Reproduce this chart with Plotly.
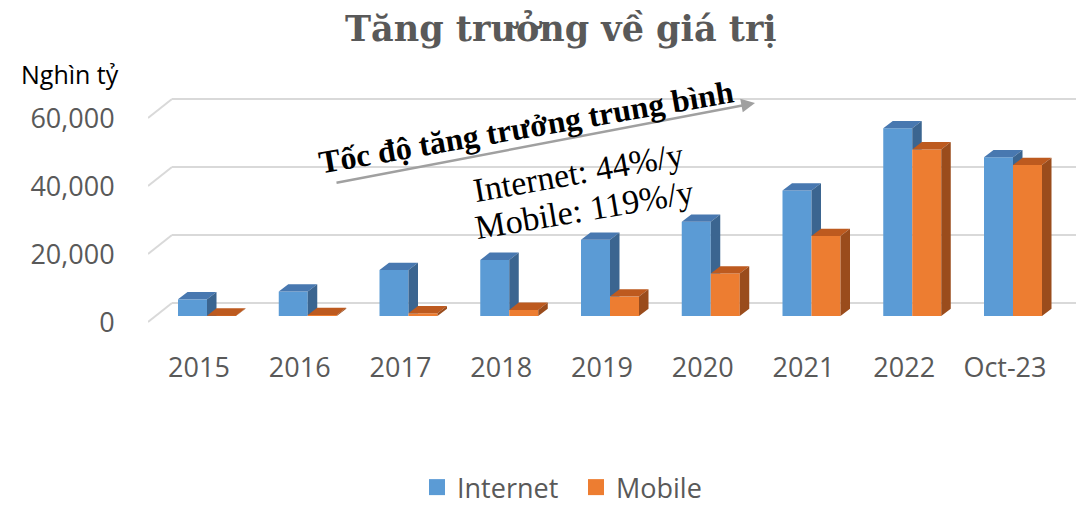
import plotly.graph_objects as go

# ---------------- data ----------------
categories = ["2015", "2016", "2017", "2018", "2019", "2020", "2021", "2022", "Oct-23"]
internet = [4900, 7200, 13500, 16500, 22400, 27700, 36900, 55200, 46700]
mobile = [100, 300, 800, 1800, 5700, 12500, 23500, 49000, 44400]
y_ticks = [0, 20000, 40000, 60000]
y_ticktext = ["0", "20,000", "40,000", "60,000"]

title_text = "Tăng trưởng về giá trị"
unit_text = "Nghìn tỷ"
growth_title = "Tốc độ tăng trưởng trung bình"
growth_internet = "Internet: 44%/y"
growth_mobile = "Mobile: 119%/y"

# ---------------- layout geometry ----------------
W, H = 1076, 508
PX_PER_CAT = 100.75      # pixels per category
X0_PX = 207              # pixel of category 0 (pair centre)
Y0_PX = 316              # pixel of value 0 at bar fronts
PX_PER_UNIT = 0.0034     # pixels per value unit

def px2x(px):
    return (px - X0_PX) / PX_PER_CAT

def dpx2v(dpx):
    return dpx / PX_PER_UNIT

def py2v(py):
    return (Y0_PX - py) / PX_PER_UNIT

def pxp(px):
    return px / W

def pyp(py):
    return 1 - py / H

plot_left, plot_right = 148, W
plot_top, plot_bottom = 88, 330
x_range = [px2x(plot_left), px2x(plot_right)]
y_range = [py2v(plot_bottom), py2v(plot_top)]

bar_w = 29 / PX_PER_CAT
depth_dx = 9.5 / PX_PER_CAT
depth_dy = dpx2v(7.3)

C_INT = "#5B9BD5"
C_INT_TOP = "#4878B0"
C_INT_SIDE = "#3B6590"
C_MOB = "#ED7D31"
C_MOB_TOP = "#BD5A1F"
C_MOB_SIDE = "#9A4C1C"
GRID = "#D9D9D9"
TXT = "#595959"

xs = list(range(len(categories)))

fig = go.Figure()

# front faces (real bars)
fig.add_trace(go.Bar(x=xs, y=internet, name="Internet", marker=dict(color=C_INT, line=dict(width=0)),
                     width=bar_w, offset=-bar_w, hoverinfo="y", showlegend=False, legendgroup="i"))
fig.add_trace(go.Bar(x=xs, y=mobile, name="Mobile", marker=dict(color=C_MOB, line=dict(width=0)),
                     width=bar_w, offset=0, hoverinfo="y", showlegend=False, legendgroup="m"))

def top_faces(x_left_list, vals):
    px_, py_ = [], []
    for xl, v in zip(x_left_list, vals):
        px_ += [xl, xl + bar_w, xl + bar_w + depth_dx, xl + depth_dx, xl, None]
        py_ += [v, v, v + depth_dy, v + depth_dy, v, None]
    return px_, py_

def side_faces(x_right_list, vals, lows):
    px_, py_ = [], []
    for xr, v, lo in zip(x_right_list, vals, lows):
        if v <= lo:
            continue
        lo_r = lo + depth_dy if lo == 0 else lo
        px_ += [xr, xr, xr + depth_dx, xr + depth_dx, xr, None]
        py_ += [lo, v, v + depth_dy, lo_r, lo, None]
    return px_, py_

int_left = [x - bar_w for x in xs]
int_right = [x for x in xs]
mob_left = [x for x in xs]
mob_right = [x + bar_w for x in xs]

faces = [
    (top_faces(int_left, internet), C_INT_TOP),
    (side_faces(int_right, internet, mobile), C_INT_SIDE),
    (top_faces(mob_left, mobile), C_MOB_TOP),
    (side_faces(mob_right, mobile, [0] * len(mobile)), C_MOB_SIDE),
]
for (fx, fy), col in faces:
    fig.add_trace(go.Scatter(x=fx, y=fy, fill="toself", fillcolor=col, mode="lines",
                             line=dict(width=0, color=col), showlegend=False, hoverinfo="skip"))

# legend entries (square swatches)
for nm, col, grp in [("Internet", C_INT, "i"), ("Mobile", C_MOB, "m")]:
    fig.add_trace(go.Scatter(x=[None], y=[None], mode="markers", name=nm, legendgroup=grp,
                             marker=dict(symbol="square", size=16, color=col)))

# 3D wall gridlines
front_off = dpx2v(-6)
wall_off = dpx2v(13)
x_front = px2x(148)
x_wall = px2x(172)
shapes = []
for v in y_ticks:
    shapes.append(dict(type="line", xref="x", yref="y", x0=x_front, y0=v + front_off,
                       x1=x_wall, y1=v + wall_off, line=dict(color=GRID, width=2), layer="below"))
    shapes.append(dict(type="line", xref="x", yref="y", x0=x_wall, y0=v + wall_off,
                       x1=x_range[1], y1=v + wall_off, line=dict(color=GRID, width=2), layer="below"))

label_off = dpx2v(-7)

annotations = [
    dict(text=unit_text, x=pxp(70), y=pyp(74), xref="paper", yref="paper", showarrow=False,
         font=dict(family="Open Sans", size=25, color="#000000"), xanchor="center", yanchor="middle"),
    dict(text=title_text, x=pxp(561), y=pyp(28), xref="paper", yref="paper", showarrow=False,
         font=dict(family="DejaVu Serif", size=35, color=TXT, weight="bold"),
         xanchor="center", yanchor="middle"),
    # arrow
    dict(text="", x=pxp(755), y=pyp(103), xref="paper", yref="paper", showarrow=True,
         ax=335 - 755, ay=183 - 103, axref="pixel", ayref="pixel", arrowhead=2, arrowsize=1.1,
         arrowwidth=2.5, arrowcolor="#A0A0A0", standoff=0, startstandoff=0),
    dict(text="<b>" + growth_title + "</b>", x=pxp(526), y=pyp(127), xref="paper", yref="paper",
         showarrow=False, textangle=-9.8,
         font=dict(family="Liberation Serif", size=32, color="#000000"),
         xanchor="center", yanchor="middle"),
    dict(text=growth_internet, x=pxp(578), y=pyp(172), xref="paper", yref="paper",
         showarrow=False, textangle=-10,
         font=dict(family="Liberation Serif", size=34, color="#000000"),
         xanchor="center", yanchor="middle"),
    dict(text=growth_mobile, x=pxp(585), y=pyp(210), xref="paper", yref="paper",
         showarrow=False, textangle=-9.5,
         font=dict(family="Liberation Serif", size=34, color="#000000"),
         xanchor="center", yanchor="middle"),
]

fig.update_layout(
    template="none",
    width=W, height=H,
    margin=dict(l=0, r=0, t=0, b=0, autoexpand=False),
    paper_bgcolor="white", plot_bgcolor="white",
    barmode="overlay",
    showlegend=True,
    legend=dict(orientation="h", x=pxp(417), xanchor="left", y=-0.008, yanchor="bottom",
                font=dict(family="Open Sans", size=27, color=TXT), itemwidth=30,
                entrywidth=114, entrywidthmode="pixels",
                bgcolor="rgba(0,0,0,0)"),
    xaxis=dict(domain=[pxp(plot_left), pxp(plot_right)], range=x_range, showgrid=False,
               zeroline=False, showline=False, automargin=False,
               tickmode="array", tickvals=[x - 0.08 for x in xs], ticktext=categories,
               ticks="outside", ticklen=14, tickcolor="rgba(0,0,0,0)",
               tickfont=dict(family="Open Sans", size=27, color=TXT)),
    yaxis=dict(domain=[pyp(plot_bottom), pyp(plot_top)], range=y_range, showgrid=False,
               zeroline=False, showline=False, automargin=False,
               tickmode="array", tickvals=[v + label_off for v in y_ticks], ticktext=y_ticktext,
               ticks="outside", ticklen=27, tickcolor="rgba(0,0,0,0)",
               tickfont=dict(family="Open Sans", size=27, color=TXT)),
    shapes=shapes,
    annotations=annotations,
)

fig.write_html("out.html", config={"displayModeBar": False},
               post_script="document.body.style.margin='0px';")
